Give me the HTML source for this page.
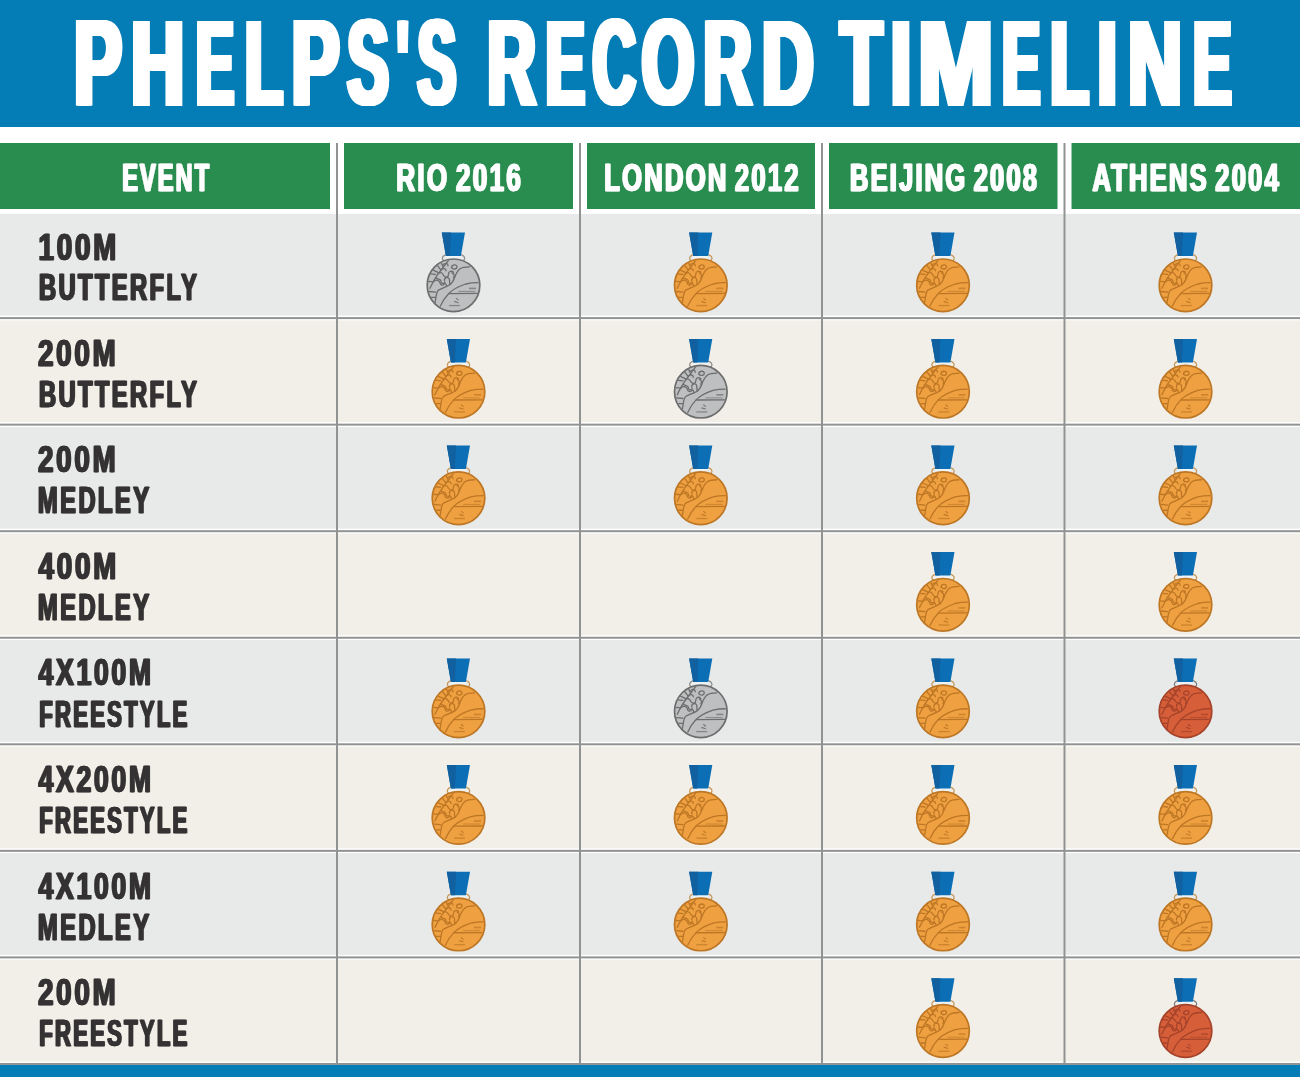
<!DOCTYPE html>
<html><head><meta charset="utf-8"><title>Phelps's Record Timeline</title>
<style>
html,body{margin:0;padding:0;background:#fff;width:1300px;height:1077px;overflow:hidden;font-family:"Liberation Sans",sans-serif;}
svg{will-change:transform;}
</style></head><body>
<svg width="1300" height="1077" viewBox="0 0 1300 1077" style="display:block">
<defs>
<clipPath id="mc"><circle cx="0" cy="0" r="25.6"/></clipPath>
<symbol id="g" overflow="visible">
<ellipse cx="0" cy="-27" rx="11.2" ry="5" fill="none" stroke="#c39556" stroke-width="1.1"/>
<polygon points="-7.6,-29.6 7.4,-29.6 7,-25.5 -7.2,-25.5" fill="#eef3f5"/>
<polygon points="-11.7,-52.8 11.5,-52.8 7.4,-29.3 -7.6,-29.3" fill="#0c6fb6"/>
<polygon points="-11.7,-52.8 -2.5,-52.8 -3.5,-29.3 -7.6,-29.3" fill="#11609f"/>
<circle cx="0" cy="0" r="26.3" fill="#efa142" stroke="#bd7624" stroke-width="1.7"/>
<g fill="none" stroke="#bd7624" stroke-width="1.3" stroke-linecap="round" stroke-linejoin="round" clip-path="url(#mc)">
<path d="M-5,-25 C-10,-18 -16,-11 -19.5,-5 C-21,-2 -22.5,0.5 -23.5,3"/>
<path d="M-16,-19.6 L-12.5,-15.2 M-12.5,-23 L-10.4,-18.5 M-23.9,-11.5 L-17.9,-10.9 M-21,-15.5 L-15.5,-13 M-24.4,6.2 L-17.9,6.8 M-25,-4 L-20,-3.5 M-23,12 L-18.2,12"/>
<path d="M16,-18.5 C12,-18.5 9,-18.3 6.5,-16.5 C3.5,-14 2,-10.5 0.8,-7 C-0.5,-3 -2,-1.5 -4.5,0 C-8,2 -12,3 -14.7,4.6 C-16.5,5.8 -17,8.5 -17.4,11.1 L-19,20.8"/>
<path d="M-13.1,20.8 C-11,16 -8,11.5 -4.5,7.9 C-1,4.5 4,1.5 12.2,-1.3 C17,-2.4 21,-2.6 24.5,-2.6"/>
<path d="M-4.5,8.3 L24.5,8.1"/>
<path d="M-2,-17.5 C-2,-21 3.5,-21.5 3.5,-18.5 C3.5,-16 0,-15.5 -2,-17.5 z"/>
<path d="M-15.5,-12 C-13,-14 -11,-12 -10,-10 C-8,-7 -5,-8 -5,-11 C-5,-14 -2,-15 0,-13"/>
<path d="M-9,-4.5 C-9.5,-8.5 -4.5,-9 -4,-5.5 C-3.6,-3 -4.5,-1.5 -3.2,-0.8"/>
<path d="M-19.5,-4 C-17,-6 -14,-5 -13.5,-2.5 C-13,0 -11,0.5 -9.5,-1 C-8.5,-2 -7.5,-2 -7,0.5"/>
<path d="M-12.5,-15.5 C-10.5,-17.5 -7.5,-17 -7.5,-14.5"/>
<path d="M-10.5,-20.5 C-8.5,-22.5 -5.5,-22.5 -5.5,-19.5"/>
<path d="M-17.5,-7.5 C-15.5,-5.5 -12.5,-6.5 -12.5,-4 C-12.5,-2 -10.5,-1 -8.5,-3"/>
<path d="M-1.5,-12.5 C0.5,-11.5 1.5,-9.5 0,-7.5"/>
</g>
<g fill="#bd7624">
<rect x="15.5" y="2.3" width="7" height="1.6" opacity="0.7"/>
<rect x="4.7" y="5.6" width="17" height="1.1" opacity="0.6"/>
<path d="M3,12.5 l2.5,2.2 l-1,0.6 l-2.3,-2 z M1,15.5 l4.5,1.6 l-0.8,0.8 l-4.2,-1.2 z" opacity="0.9"/>
<rect x="-4.5" y="19.6" width="11" height="1.3" opacity="0.7"/>
</g>
</symbol>
<symbol id="s" overflow="visible">
<ellipse cx="0" cy="-27" rx="11.2" ry="5" fill="none" stroke="#8a8a8b" stroke-width="1.1"/>
<polygon points="-7.6,-29.6 7.4,-29.6 7,-25.5 -7.2,-25.5" fill="#eef3f5"/>
<polygon points="-11.7,-52.8 11.5,-52.8 7.4,-29.3 -7.6,-29.3" fill="#0c6fb6"/>
<polygon points="-11.7,-52.8 -2.5,-52.8 -3.5,-29.3 -7.6,-29.3" fill="#11609f"/>
<circle cx="0" cy="0" r="26.3" fill="#bebfc0" stroke="#6d6d6e" stroke-width="1.7"/>
<g fill="none" stroke="#6d6d6e" stroke-width="1.3" stroke-linecap="round" stroke-linejoin="round" clip-path="url(#mc)">
<path d="M-5,-25 C-10,-18 -16,-11 -19.5,-5 C-21,-2 -22.5,0.5 -23.5,3"/>
<path d="M-16,-19.6 L-12.5,-15.2 M-12.5,-23 L-10.4,-18.5 M-23.9,-11.5 L-17.9,-10.9 M-21,-15.5 L-15.5,-13 M-24.4,6.2 L-17.9,6.8 M-25,-4 L-20,-3.5 M-23,12 L-18.2,12"/>
<path d="M16,-18.5 C12,-18.5 9,-18.3 6.5,-16.5 C3.5,-14 2,-10.5 0.8,-7 C-0.5,-3 -2,-1.5 -4.5,0 C-8,2 -12,3 -14.7,4.6 C-16.5,5.8 -17,8.5 -17.4,11.1 L-19,20.8"/>
<path d="M-13.1,20.8 C-11,16 -8,11.5 -4.5,7.9 C-1,4.5 4,1.5 12.2,-1.3 C17,-2.4 21,-2.6 24.5,-2.6"/>
<path d="M-4.5,8.3 L24.5,8.1"/>
<path d="M-2,-17.5 C-2,-21 3.5,-21.5 3.5,-18.5 C3.5,-16 0,-15.5 -2,-17.5 z"/>
<path d="M-15.5,-12 C-13,-14 -11,-12 -10,-10 C-8,-7 -5,-8 -5,-11 C-5,-14 -2,-15 0,-13"/>
<path d="M-9,-4.5 C-9.5,-8.5 -4.5,-9 -4,-5.5 C-3.6,-3 -4.5,-1.5 -3.2,-0.8"/>
<path d="M-19.5,-4 C-17,-6 -14,-5 -13.5,-2.5 C-13,0 -11,0.5 -9.5,-1 C-8.5,-2 -7.5,-2 -7,0.5"/>
<path d="M-12.5,-15.5 C-10.5,-17.5 -7.5,-17 -7.5,-14.5"/>
<path d="M-10.5,-20.5 C-8.5,-22.5 -5.5,-22.5 -5.5,-19.5"/>
<path d="M-17.5,-7.5 C-15.5,-5.5 -12.5,-6.5 -12.5,-4 C-12.5,-2 -10.5,-1 -8.5,-3"/>
<path d="M-1.5,-12.5 C0.5,-11.5 1.5,-9.5 0,-7.5"/>
</g>
<g fill="#6d6d6e">
<rect x="15.5" y="2.3" width="7" height="1.6" opacity="0.7"/>
<rect x="4.7" y="5.6" width="17" height="1.1" opacity="0.6"/>
<path d="M3,12.5 l2.5,2.2 l-1,0.6 l-2.3,-2 z M1,15.5 l4.5,1.6 l-0.8,0.8 l-4.2,-1.2 z" opacity="0.9"/>
<rect x="-4.5" y="19.6" width="11" height="1.3" opacity="0.7"/>
</g>
</symbol>
<symbol id="b" overflow="visible">
<ellipse cx="0" cy="-27" rx="11.2" ry="5" fill="none" stroke="#7a7a7a" stroke-width="1.1"/>
<polygon points="-7.6,-29.6 7.4,-29.6 7,-25.5 -7.2,-25.5" fill="#eef3f5"/>
<polygon points="-11.7,-52.8 11.5,-52.8 7.4,-29.3 -7.6,-29.3" fill="#0c6fb6"/>
<polygon points="-11.7,-52.8 -2.5,-52.8 -3.5,-29.3 -7.6,-29.3" fill="#11609f"/>
<circle cx="0" cy="0" r="26.3" fill="#d65e39" stroke="#a5432a" stroke-width="1.7"/>
<g fill="none" stroke="#a5432a" stroke-width="1.3" stroke-linecap="round" stroke-linejoin="round" clip-path="url(#mc)">
<path d="M-5,-25 C-10,-18 -16,-11 -19.5,-5 C-21,-2 -22.5,0.5 -23.5,3"/>
<path d="M-16,-19.6 L-12.5,-15.2 M-12.5,-23 L-10.4,-18.5 M-23.9,-11.5 L-17.9,-10.9 M-21,-15.5 L-15.5,-13 M-24.4,6.2 L-17.9,6.8 M-25,-4 L-20,-3.5 M-23,12 L-18.2,12"/>
<path d="M16,-18.5 C12,-18.5 9,-18.3 6.5,-16.5 C3.5,-14 2,-10.5 0.8,-7 C-0.5,-3 -2,-1.5 -4.5,0 C-8,2 -12,3 -14.7,4.6 C-16.5,5.8 -17,8.5 -17.4,11.1 L-19,20.8"/>
<path d="M-13.1,20.8 C-11,16 -8,11.5 -4.5,7.9 C-1,4.5 4,1.5 12.2,-1.3 C17,-2.4 21,-2.6 24.5,-2.6"/>
<path d="M-4.5,8.3 L24.5,8.1"/>
<path d="M-2,-17.5 C-2,-21 3.5,-21.5 3.5,-18.5 C3.5,-16 0,-15.5 -2,-17.5 z"/>
<path d="M-15.5,-12 C-13,-14 -11,-12 -10,-10 C-8,-7 -5,-8 -5,-11 C-5,-14 -2,-15 0,-13"/>
<path d="M-9,-4.5 C-9.5,-8.5 -4.5,-9 -4,-5.5 C-3.6,-3 -4.5,-1.5 -3.2,-0.8"/>
<path d="M-19.5,-4 C-17,-6 -14,-5 -13.5,-2.5 C-13,0 -11,0.5 -9.5,-1 C-8.5,-2 -7.5,-2 -7,0.5"/>
<path d="M-12.5,-15.5 C-10.5,-17.5 -7.5,-17 -7.5,-14.5"/>
<path d="M-10.5,-20.5 C-8.5,-22.5 -5.5,-22.5 -5.5,-19.5"/>
<path d="M-17.5,-7.5 C-15.5,-5.5 -12.5,-6.5 -12.5,-4 C-12.5,-2 -10.5,-1 -8.5,-3"/>
<path d="M-1.5,-12.5 C0.5,-11.5 1.5,-9.5 0,-7.5"/>
</g>
<g fill="#a5432a">
<rect x="15.5" y="2.3" width="7" height="1.6" opacity="0.7"/>
<rect x="4.7" y="5.6" width="17" height="1.1" opacity="0.6"/>
<path d="M3,12.5 l2.5,2.2 l-1,0.6 l-2.3,-2 z M1,15.5 l4.5,1.6 l-0.8,0.8 l-4.2,-1.2 z" opacity="0.9"/>
<rect x="-4.5" y="19.6" width="11" height="1.3" opacity="0.7"/>
</g>
</symbol>
</defs>
<rect x="0" y="0" width="1300" height="1077" fill="#ffffff"/>
<rect x="0" y="0" width="1300" height="127" fill="#047db6"/>
<rect x="0" y="143" width="330" height="66" fill="#2a8d50"/>
<rect x="344" y="143" width="229" height="66" fill="#2a8d50"/>
<rect x="587" y="143" width="228" height="66" fill="#2a8d50"/>
<rect x="829" y="143" width="228.5" height="66" fill="#2a8d50"/>
<rect x="1071.5" y="143" width="228.5" height="66" fill="#2a8d50"/>
<rect x="0" y="214.00" width="1300" height="101.60" fill="#e8eae9"/>
<rect x="0" y="317.10" width="1300" height="2" fill="#919392"/>
<rect x="0" y="320.40" width="1300" height="101.75" fill="#f2efe8"/>
<rect x="0" y="423.65" width="1300" height="2" fill="#919392"/>
<rect x="0" y="426.95" width="1300" height="101.75" fill="#e8eae9"/>
<rect x="0" y="530.20" width="1300" height="2" fill="#919392"/>
<rect x="0" y="533.50" width="1300" height="101.75" fill="#f2efe8"/>
<rect x="0" y="636.75" width="1300" height="2" fill="#919392"/>
<rect x="0" y="640.05" width="1300" height="101.75" fill="#e8eae9"/>
<rect x="0" y="743.30" width="1300" height="2" fill="#919392"/>
<rect x="0" y="746.60" width="1300" height="101.75" fill="#f2efe8"/>
<rect x="0" y="849.85" width="1300" height="2" fill="#919392"/>
<rect x="0" y="853.15" width="1300" height="101.75" fill="#e8eae9"/>
<rect x="0" y="956.40" width="1300" height="2" fill="#919392"/>
<rect x="0" y="959.70" width="1300" height="101.75" fill="#f2efe8"/>
<rect x="0" y="1062.95" width="1300" height="2" fill="#919392"/>
<rect x="0" y="1064.95" width="1300" height="12.05" fill="#047db6"/>
<rect x="336" y="143" width="2" height="921.95" fill="#919392"/>
<rect x="579" y="143" width="2" height="921.95" fill="#919392"/>
<rect x="821" y="143" width="2" height="921.95" fill="#919392"/>
<rect x="1063.5" y="143" width="2" height="921.95" fill="#919392"/>
<text x="71.72" y="104.21" font-family="Liberation Sans" font-weight="bold" font-size="119.91" letter-spacing="0.00" word-spacing="0.00" fill="#ffffff" stroke="#ffffff" stroke-width="2.0" textLength="47.54" lengthAdjust="spacingAndGlyphs">P</text>
<text x="72.56" y="104.21" font-family="Liberation Sans" font-weight="bold" font-size="119.91" letter-spacing="0.00" word-spacing="0.00" fill="#ffffff" stroke="#ffffff" stroke-width="2.0" textLength="47.54" lengthAdjust="spacingAndGlyphs">P</text>
<text x="73.39" y="104.21" font-family="Liberation Sans" font-weight="bold" font-size="119.91" letter-spacing="0.00" word-spacing="0.00" fill="#ffffff" stroke="#ffffff" stroke-width="2.0" textLength="47.54" lengthAdjust="spacingAndGlyphs">P</text>
<text x="74.22" y="104.21" font-family="Liberation Sans" font-weight="bold" font-size="119.91" letter-spacing="0.00" word-spacing="0.00" fill="#ffffff" stroke="#ffffff" stroke-width="2.0" textLength="47.54" lengthAdjust="spacingAndGlyphs">P</text>
<text x="75.06" y="104.21" font-family="Liberation Sans" font-weight="bold" font-size="119.91" letter-spacing="0.00" word-spacing="0.00" fill="#ffffff" stroke="#ffffff" stroke-width="2.0" textLength="47.54" lengthAdjust="spacingAndGlyphs">P</text>
<text x="75.89" y="104.21" font-family="Liberation Sans" font-weight="bold" font-size="119.91" letter-spacing="0.00" word-spacing="0.00" fill="#ffffff" stroke="#ffffff" stroke-width="2.0" textLength="47.54" lengthAdjust="spacingAndGlyphs">P</text>
<text x="76.72" y="104.21" font-family="Liberation Sans" font-weight="bold" font-size="119.91" letter-spacing="0.00" word-spacing="0.00" fill="#ffffff" stroke="#ffffff" stroke-width="2.0" textLength="47.54" lengthAdjust="spacingAndGlyphs">P</text>
<text x="128.84" y="105.00" font-family="Liberation Sans" font-weight="bold" font-size="119.91" letter-spacing="0.00" word-spacing="0.00" fill="#ffffff" stroke="#ffffff" stroke-width="2.0" textLength="52.85" lengthAdjust="spacingAndGlyphs">H</text>
<text x="129.67" y="105.00" font-family="Liberation Sans" font-weight="bold" font-size="119.91" letter-spacing="0.00" word-spacing="0.00" fill="#ffffff" stroke="#ffffff" stroke-width="2.0" textLength="52.85" lengthAdjust="spacingAndGlyphs">H</text>
<text x="130.50" y="105.00" font-family="Liberation Sans" font-weight="bold" font-size="119.91" letter-spacing="0.00" word-spacing="0.00" fill="#ffffff" stroke="#ffffff" stroke-width="2.0" textLength="52.85" lengthAdjust="spacingAndGlyphs">H</text>
<text x="131.34" y="105.00" font-family="Liberation Sans" font-weight="bold" font-size="119.91" letter-spacing="0.00" word-spacing="0.00" fill="#ffffff" stroke="#ffffff" stroke-width="2.0" textLength="52.85" lengthAdjust="spacingAndGlyphs">H</text>
<text x="132.17" y="105.00" font-family="Liberation Sans" font-weight="bold" font-size="119.91" letter-spacing="0.00" word-spacing="0.00" fill="#ffffff" stroke="#ffffff" stroke-width="2.0" textLength="52.85" lengthAdjust="spacingAndGlyphs">H</text>
<text x="133.00" y="105.00" font-family="Liberation Sans" font-weight="bold" font-size="119.91" letter-spacing="0.00" word-spacing="0.00" fill="#ffffff" stroke="#ffffff" stroke-width="2.0" textLength="52.85" lengthAdjust="spacingAndGlyphs">H</text>
<text x="133.84" y="105.00" font-family="Liberation Sans" font-weight="bold" font-size="119.91" letter-spacing="0.00" word-spacing="0.00" fill="#ffffff" stroke="#ffffff" stroke-width="2.0" textLength="52.85" lengthAdjust="spacingAndGlyphs">H</text>
<text x="193.79" y="105.00" font-family="Liberation Sans" font-weight="bold" font-size="119.91" letter-spacing="0.00" word-spacing="0.00" fill="#ffffff" stroke="#ffffff" stroke-width="2.0" textLength="37.52" lengthAdjust="spacingAndGlyphs">E</text>
<text x="194.63" y="105.00" font-family="Liberation Sans" font-weight="bold" font-size="119.91" letter-spacing="0.00" word-spacing="0.00" fill="#ffffff" stroke="#ffffff" stroke-width="2.0" textLength="37.52" lengthAdjust="spacingAndGlyphs">E</text>
<text x="195.46" y="105.00" font-family="Liberation Sans" font-weight="bold" font-size="119.91" letter-spacing="0.00" word-spacing="0.00" fill="#ffffff" stroke="#ffffff" stroke-width="2.0" textLength="37.52" lengthAdjust="spacingAndGlyphs">E</text>
<text x="196.29" y="105.00" font-family="Liberation Sans" font-weight="bold" font-size="119.91" letter-spacing="0.00" word-spacing="0.00" fill="#ffffff" stroke="#ffffff" stroke-width="2.0" textLength="37.52" lengthAdjust="spacingAndGlyphs">E</text>
<text x="197.13" y="105.00" font-family="Liberation Sans" font-weight="bold" font-size="119.91" letter-spacing="0.00" word-spacing="0.00" fill="#ffffff" stroke="#ffffff" stroke-width="2.0" textLength="37.52" lengthAdjust="spacingAndGlyphs">E</text>
<text x="197.96" y="105.00" font-family="Liberation Sans" font-weight="bold" font-size="119.91" letter-spacing="0.00" word-spacing="0.00" fill="#ffffff" stroke="#ffffff" stroke-width="2.0" textLength="37.52" lengthAdjust="spacingAndGlyphs">E</text>
<text x="198.79" y="105.00" font-family="Liberation Sans" font-weight="bold" font-size="119.91" letter-spacing="0.00" word-spacing="0.00" fill="#ffffff" stroke="#ffffff" stroke-width="2.0" textLength="37.52" lengthAdjust="spacingAndGlyphs">E</text>
<text x="242.65" y="105.00" font-family="Liberation Sans" font-weight="bold" font-size="119.91" letter-spacing="0.00" word-spacing="0.00" fill="#ffffff" stroke="#ffffff" stroke-width="2.0" textLength="37.34" lengthAdjust="spacingAndGlyphs">L</text>
<text x="243.48" y="105.00" font-family="Liberation Sans" font-weight="bold" font-size="119.91" letter-spacing="0.00" word-spacing="0.00" fill="#ffffff" stroke="#ffffff" stroke-width="2.0" textLength="37.34" lengthAdjust="spacingAndGlyphs">L</text>
<text x="244.32" y="105.00" font-family="Liberation Sans" font-weight="bold" font-size="119.91" letter-spacing="0.00" word-spacing="0.00" fill="#ffffff" stroke="#ffffff" stroke-width="2.0" textLength="37.34" lengthAdjust="spacingAndGlyphs">L</text>
<text x="245.15" y="105.00" font-family="Liberation Sans" font-weight="bold" font-size="119.91" letter-spacing="0.00" word-spacing="0.00" fill="#ffffff" stroke="#ffffff" stroke-width="2.0" textLength="37.34" lengthAdjust="spacingAndGlyphs">L</text>
<text x="245.98" y="105.00" font-family="Liberation Sans" font-weight="bold" font-size="119.91" letter-spacing="0.00" word-spacing="0.00" fill="#ffffff" stroke="#ffffff" stroke-width="2.0" textLength="37.34" lengthAdjust="spacingAndGlyphs">L</text>
<text x="246.82" y="105.00" font-family="Liberation Sans" font-weight="bold" font-size="119.91" letter-spacing="0.00" word-spacing="0.00" fill="#ffffff" stroke="#ffffff" stroke-width="2.0" textLength="37.34" lengthAdjust="spacingAndGlyphs">L</text>
<text x="247.65" y="105.00" font-family="Liberation Sans" font-weight="bold" font-size="119.91" letter-spacing="0.00" word-spacing="0.00" fill="#ffffff" stroke="#ffffff" stroke-width="2.0" textLength="37.34" lengthAdjust="spacingAndGlyphs">L</text>
<text x="289.15" y="104.21" font-family="Liberation Sans" font-weight="bold" font-size="119.91" letter-spacing="0.00" word-spacing="0.00" fill="#ffffff" stroke="#ffffff" stroke-width="2.0" textLength="47.73" lengthAdjust="spacingAndGlyphs">P</text>
<text x="289.99" y="104.21" font-family="Liberation Sans" font-weight="bold" font-size="119.91" letter-spacing="0.00" word-spacing="0.00" fill="#ffffff" stroke="#ffffff" stroke-width="2.0" textLength="47.73" lengthAdjust="spacingAndGlyphs">P</text>
<text x="290.82" y="104.21" font-family="Liberation Sans" font-weight="bold" font-size="119.91" letter-spacing="0.00" word-spacing="0.00" fill="#ffffff" stroke="#ffffff" stroke-width="2.0" textLength="47.73" lengthAdjust="spacingAndGlyphs">P</text>
<text x="291.65" y="104.21" font-family="Liberation Sans" font-weight="bold" font-size="119.91" letter-spacing="0.00" word-spacing="0.00" fill="#ffffff" stroke="#ffffff" stroke-width="2.0" textLength="47.73" lengthAdjust="spacingAndGlyphs">P</text>
<text x="292.49" y="104.21" font-family="Liberation Sans" font-weight="bold" font-size="119.91" letter-spacing="0.00" word-spacing="0.00" fill="#ffffff" stroke="#ffffff" stroke-width="2.0" textLength="47.73" lengthAdjust="spacingAndGlyphs">P</text>
<text x="293.32" y="104.21" font-family="Liberation Sans" font-weight="bold" font-size="119.91" letter-spacing="0.00" word-spacing="0.00" fill="#ffffff" stroke="#ffffff" stroke-width="2.0" textLength="47.73" lengthAdjust="spacingAndGlyphs">P</text>
<text x="294.15" y="104.21" font-family="Liberation Sans" font-weight="bold" font-size="119.91" letter-spacing="0.00" word-spacing="0.00" fill="#ffffff" stroke="#ffffff" stroke-width="2.0" textLength="47.73" lengthAdjust="spacingAndGlyphs">P</text>
<text x="345.05" y="104.20" font-family="Liberation Sans" font-weight="bold" font-size="119.91" letter-spacing="0.00" word-spacing="0.00" fill="#ffffff" stroke="#ffffff" stroke-width="2.0" textLength="41.05" lengthAdjust="spacingAndGlyphs">S</text>
<text x="345.88" y="104.20" font-family="Liberation Sans" font-weight="bold" font-size="119.91" letter-spacing="0.00" word-spacing="0.00" fill="#ffffff" stroke="#ffffff" stroke-width="2.0" textLength="41.05" lengthAdjust="spacingAndGlyphs">S</text>
<text x="346.71" y="104.20" font-family="Liberation Sans" font-weight="bold" font-size="119.91" letter-spacing="0.00" word-spacing="0.00" fill="#ffffff" stroke="#ffffff" stroke-width="2.0" textLength="41.05" lengthAdjust="spacingAndGlyphs">S</text>
<text x="347.55" y="104.20" font-family="Liberation Sans" font-weight="bold" font-size="119.91" letter-spacing="0.00" word-spacing="0.00" fill="#ffffff" stroke="#ffffff" stroke-width="2.0" textLength="41.05" lengthAdjust="spacingAndGlyphs">S</text>
<text x="348.38" y="104.20" font-family="Liberation Sans" font-weight="bold" font-size="119.91" letter-spacing="0.00" word-spacing="0.00" fill="#ffffff" stroke="#ffffff" stroke-width="2.0" textLength="41.05" lengthAdjust="spacingAndGlyphs">S</text>
<text x="349.21" y="104.20" font-family="Liberation Sans" font-weight="bold" font-size="119.91" letter-spacing="0.00" word-spacing="0.00" fill="#ffffff" stroke="#ffffff" stroke-width="2.0" textLength="41.05" lengthAdjust="spacingAndGlyphs">S</text>
<text x="350.05" y="104.20" font-family="Liberation Sans" font-weight="bold" font-size="119.91" letter-spacing="0.00" word-spacing="0.00" fill="#ffffff" stroke="#ffffff" stroke-width="2.0" textLength="41.05" lengthAdjust="spacingAndGlyphs">S</text>
<text x="395.22" y="105.00" font-family="Liberation Sans" font-weight="bold" font-size="120.00" letter-spacing="0.00" word-spacing="0.00" fill="#ffffff" stroke="#ffffff" stroke-width="2.0" textLength="10.00" lengthAdjust="spacingAndGlyphs">&#39;</text>
<text x="396.06" y="105.00" font-family="Liberation Sans" font-weight="bold" font-size="120.00" letter-spacing="0.00" word-spacing="0.00" fill="#ffffff" stroke="#ffffff" stroke-width="2.0" textLength="10.00" lengthAdjust="spacingAndGlyphs">&#39;</text>
<text x="396.89" y="105.00" font-family="Liberation Sans" font-weight="bold" font-size="120.00" letter-spacing="0.00" word-spacing="0.00" fill="#ffffff" stroke="#ffffff" stroke-width="2.0" textLength="10.00" lengthAdjust="spacingAndGlyphs">&#39;</text>
<text x="397.72" y="105.00" font-family="Liberation Sans" font-weight="bold" font-size="120.00" letter-spacing="0.00" word-spacing="0.00" fill="#ffffff" stroke="#ffffff" stroke-width="2.0" textLength="10.00" lengthAdjust="spacingAndGlyphs">&#39;</text>
<text x="398.56" y="105.00" font-family="Liberation Sans" font-weight="bold" font-size="120.00" letter-spacing="0.00" word-spacing="0.00" fill="#ffffff" stroke="#ffffff" stroke-width="2.0" textLength="10.00" lengthAdjust="spacingAndGlyphs">&#39;</text>
<text x="399.39" y="105.00" font-family="Liberation Sans" font-weight="bold" font-size="120.00" letter-spacing="0.00" word-spacing="0.00" fill="#ffffff" stroke="#ffffff" stroke-width="2.0" textLength="10.00" lengthAdjust="spacingAndGlyphs">&#39;</text>
<text x="400.22" y="105.00" font-family="Liberation Sans" font-weight="bold" font-size="120.00" letter-spacing="0.00" word-spacing="0.00" fill="#ffffff" stroke="#ffffff" stroke-width="2.0" textLength="10.00" lengthAdjust="spacingAndGlyphs">&#39;</text>
<text x="415.34" y="104.20" font-family="Liberation Sans" font-weight="bold" font-size="119.91" letter-spacing="0.00" word-spacing="0.00" fill="#ffffff" stroke="#ffffff" stroke-width="2.0" textLength="38.21" lengthAdjust="spacingAndGlyphs">S</text>
<text x="416.17" y="104.20" font-family="Liberation Sans" font-weight="bold" font-size="119.91" letter-spacing="0.00" word-spacing="0.00" fill="#ffffff" stroke="#ffffff" stroke-width="2.0" textLength="38.21" lengthAdjust="spacingAndGlyphs">S</text>
<text x="417.00" y="104.20" font-family="Liberation Sans" font-weight="bold" font-size="119.91" letter-spacing="0.00" word-spacing="0.00" fill="#ffffff" stroke="#ffffff" stroke-width="2.0" textLength="38.21" lengthAdjust="spacingAndGlyphs">S</text>
<text x="417.84" y="104.20" font-family="Liberation Sans" font-weight="bold" font-size="119.91" letter-spacing="0.00" word-spacing="0.00" fill="#ffffff" stroke="#ffffff" stroke-width="2.0" textLength="38.21" lengthAdjust="spacingAndGlyphs">S</text>
<text x="418.67" y="104.20" font-family="Liberation Sans" font-weight="bold" font-size="119.91" letter-spacing="0.00" word-spacing="0.00" fill="#ffffff" stroke="#ffffff" stroke-width="2.0" textLength="38.21" lengthAdjust="spacingAndGlyphs">S</text>
<text x="419.50" y="104.20" font-family="Liberation Sans" font-weight="bold" font-size="119.91" letter-spacing="0.00" word-spacing="0.00" fill="#ffffff" stroke="#ffffff" stroke-width="2.0" textLength="38.21" lengthAdjust="spacingAndGlyphs">S</text>
<text x="420.34" y="104.20" font-family="Liberation Sans" font-weight="bold" font-size="119.91" letter-spacing="0.00" word-spacing="0.00" fill="#ffffff" stroke="#ffffff" stroke-width="2.0" textLength="38.21" lengthAdjust="spacingAndGlyphs">S</text>
<text x="485.00" y="105.01" font-family="Liberation Sans" font-weight="bold" font-size="119.91" letter-spacing="0.00" word-spacing="0.00" fill="#ffffff" stroke="#ffffff" stroke-width="2.0" textLength="48.29" lengthAdjust="spacingAndGlyphs">R</text>
<text x="485.83" y="105.01" font-family="Liberation Sans" font-weight="bold" font-size="119.91" letter-spacing="0.00" word-spacing="0.00" fill="#ffffff" stroke="#ffffff" stroke-width="2.0" textLength="48.29" lengthAdjust="spacingAndGlyphs">R</text>
<text x="486.67" y="105.01" font-family="Liberation Sans" font-weight="bold" font-size="119.91" letter-spacing="0.00" word-spacing="0.00" fill="#ffffff" stroke="#ffffff" stroke-width="2.0" textLength="48.29" lengthAdjust="spacingAndGlyphs">R</text>
<text x="487.50" y="105.01" font-family="Liberation Sans" font-weight="bold" font-size="119.91" letter-spacing="0.00" word-spacing="0.00" fill="#ffffff" stroke="#ffffff" stroke-width="2.0" textLength="48.29" lengthAdjust="spacingAndGlyphs">R</text>
<text x="488.33" y="105.01" font-family="Liberation Sans" font-weight="bold" font-size="119.91" letter-spacing="0.00" word-spacing="0.00" fill="#ffffff" stroke="#ffffff" stroke-width="2.0" textLength="48.29" lengthAdjust="spacingAndGlyphs">R</text>
<text x="489.17" y="105.01" font-family="Liberation Sans" font-weight="bold" font-size="119.91" letter-spacing="0.00" word-spacing="0.00" fill="#ffffff" stroke="#ffffff" stroke-width="2.0" textLength="48.29" lengthAdjust="spacingAndGlyphs">R</text>
<text x="490.00" y="105.01" font-family="Liberation Sans" font-weight="bold" font-size="119.91" letter-spacing="0.00" word-spacing="0.00" fill="#ffffff" stroke="#ffffff" stroke-width="2.0" textLength="48.29" lengthAdjust="spacingAndGlyphs">R</text>
<text x="543.57" y="105.00" font-family="Liberation Sans" font-weight="bold" font-size="119.91" letter-spacing="0.00" word-spacing="0.00" fill="#ffffff" stroke="#ffffff" stroke-width="2.0" textLength="38.69" lengthAdjust="spacingAndGlyphs">E</text>
<text x="544.40" y="105.00" font-family="Liberation Sans" font-weight="bold" font-size="119.91" letter-spacing="0.00" word-spacing="0.00" fill="#ffffff" stroke="#ffffff" stroke-width="2.0" textLength="38.69" lengthAdjust="spacingAndGlyphs">E</text>
<text x="545.23" y="105.00" font-family="Liberation Sans" font-weight="bold" font-size="119.91" letter-spacing="0.00" word-spacing="0.00" fill="#ffffff" stroke="#ffffff" stroke-width="2.0" textLength="38.69" lengthAdjust="spacingAndGlyphs">E</text>
<text x="546.07" y="105.00" font-family="Liberation Sans" font-weight="bold" font-size="119.91" letter-spacing="0.00" word-spacing="0.00" fill="#ffffff" stroke="#ffffff" stroke-width="2.0" textLength="38.69" lengthAdjust="spacingAndGlyphs">E</text>
<text x="546.90" y="105.00" font-family="Liberation Sans" font-weight="bold" font-size="119.91" letter-spacing="0.00" word-spacing="0.00" fill="#ffffff" stroke="#ffffff" stroke-width="2.0" textLength="38.69" lengthAdjust="spacingAndGlyphs">E</text>
<text x="547.73" y="105.00" font-family="Liberation Sans" font-weight="bold" font-size="119.91" letter-spacing="0.00" word-spacing="0.00" fill="#ffffff" stroke="#ffffff" stroke-width="2.0" textLength="38.69" lengthAdjust="spacingAndGlyphs">E</text>
<text x="548.57" y="105.00" font-family="Liberation Sans" font-weight="bold" font-size="119.91" letter-spacing="0.00" word-spacing="0.00" fill="#ffffff" stroke="#ffffff" stroke-width="2.0" textLength="38.69" lengthAdjust="spacingAndGlyphs">E</text>
<text x="590.33" y="104.20" font-family="Liberation Sans" font-weight="bold" font-size="119.91" letter-spacing="0.00" word-spacing="0.00" fill="#ffffff" stroke="#ffffff" stroke-width="2.0" textLength="42.76" lengthAdjust="spacingAndGlyphs">C</text>
<text x="591.16" y="104.20" font-family="Liberation Sans" font-weight="bold" font-size="119.91" letter-spacing="0.00" word-spacing="0.00" fill="#ffffff" stroke="#ffffff" stroke-width="2.0" textLength="42.76" lengthAdjust="spacingAndGlyphs">C</text>
<text x="591.99" y="104.20" font-family="Liberation Sans" font-weight="bold" font-size="119.91" letter-spacing="0.00" word-spacing="0.00" fill="#ffffff" stroke="#ffffff" stroke-width="2.0" textLength="42.76" lengthAdjust="spacingAndGlyphs">C</text>
<text x="592.83" y="104.20" font-family="Liberation Sans" font-weight="bold" font-size="119.91" letter-spacing="0.00" word-spacing="0.00" fill="#ffffff" stroke="#ffffff" stroke-width="2.0" textLength="42.76" lengthAdjust="spacingAndGlyphs">C</text>
<text x="593.66" y="104.20" font-family="Liberation Sans" font-weight="bold" font-size="119.91" letter-spacing="0.00" word-spacing="0.00" fill="#ffffff" stroke="#ffffff" stroke-width="2.0" textLength="42.76" lengthAdjust="spacingAndGlyphs">C</text>
<text x="594.49" y="104.20" font-family="Liberation Sans" font-weight="bold" font-size="119.91" letter-spacing="0.00" word-spacing="0.00" fill="#ffffff" stroke="#ffffff" stroke-width="2.0" textLength="42.76" lengthAdjust="spacingAndGlyphs">C</text>
<text x="595.33" y="104.20" font-family="Liberation Sans" font-weight="bold" font-size="119.91" letter-spacing="0.00" word-spacing="0.00" fill="#ffffff" stroke="#ffffff" stroke-width="2.0" textLength="42.76" lengthAdjust="spacingAndGlyphs">C</text>
<text x="639.34" y="104.20" font-family="Liberation Sans" font-weight="bold" font-size="119.91" letter-spacing="0.00" word-spacing="0.00" fill="#ffffff" stroke="#ffffff" stroke-width="2.0" textLength="52.47" lengthAdjust="spacingAndGlyphs">O</text>
<text x="640.17" y="104.20" font-family="Liberation Sans" font-weight="bold" font-size="119.91" letter-spacing="0.00" word-spacing="0.00" fill="#ffffff" stroke="#ffffff" stroke-width="2.0" textLength="52.47" lengthAdjust="spacingAndGlyphs">O</text>
<text x="641.00" y="104.20" font-family="Liberation Sans" font-weight="bold" font-size="119.91" letter-spacing="0.00" word-spacing="0.00" fill="#ffffff" stroke="#ffffff" stroke-width="2.0" textLength="52.47" lengthAdjust="spacingAndGlyphs">O</text>
<text x="641.84" y="104.20" font-family="Liberation Sans" font-weight="bold" font-size="119.91" letter-spacing="0.00" word-spacing="0.00" fill="#ffffff" stroke="#ffffff" stroke-width="2.0" textLength="52.47" lengthAdjust="spacingAndGlyphs">O</text>
<text x="642.67" y="104.20" font-family="Liberation Sans" font-weight="bold" font-size="119.91" letter-spacing="0.00" word-spacing="0.00" fill="#ffffff" stroke="#ffffff" stroke-width="2.0" textLength="52.47" lengthAdjust="spacingAndGlyphs">O</text>
<text x="643.50" y="104.20" font-family="Liberation Sans" font-weight="bold" font-size="119.91" letter-spacing="0.00" word-spacing="0.00" fill="#ffffff" stroke="#ffffff" stroke-width="2.0" textLength="52.47" lengthAdjust="spacingAndGlyphs">O</text>
<text x="644.34" y="104.20" font-family="Liberation Sans" font-weight="bold" font-size="119.91" letter-spacing="0.00" word-spacing="0.00" fill="#ffffff" stroke="#ffffff" stroke-width="2.0" textLength="52.47" lengthAdjust="spacingAndGlyphs">O</text>
<text x="701.10" y="105.01" font-family="Liberation Sans" font-weight="bold" font-size="119.91" letter-spacing="0.00" word-spacing="0.00" fill="#ffffff" stroke="#ffffff" stroke-width="2.0" textLength="48.18" lengthAdjust="spacingAndGlyphs">R</text>
<text x="701.93" y="105.01" font-family="Liberation Sans" font-weight="bold" font-size="119.91" letter-spacing="0.00" word-spacing="0.00" fill="#ffffff" stroke="#ffffff" stroke-width="2.0" textLength="48.18" lengthAdjust="spacingAndGlyphs">R</text>
<text x="702.77" y="105.01" font-family="Liberation Sans" font-weight="bold" font-size="119.91" letter-spacing="0.00" word-spacing="0.00" fill="#ffffff" stroke="#ffffff" stroke-width="2.0" textLength="48.18" lengthAdjust="spacingAndGlyphs">R</text>
<text x="703.60" y="105.01" font-family="Liberation Sans" font-weight="bold" font-size="119.91" letter-spacing="0.00" word-spacing="0.00" fill="#ffffff" stroke="#ffffff" stroke-width="2.0" textLength="48.18" lengthAdjust="spacingAndGlyphs">R</text>
<text x="704.43" y="105.01" font-family="Liberation Sans" font-weight="bold" font-size="119.91" letter-spacing="0.00" word-spacing="0.00" fill="#ffffff" stroke="#ffffff" stroke-width="2.0" textLength="48.18" lengthAdjust="spacingAndGlyphs">R</text>
<text x="705.27" y="105.01" font-family="Liberation Sans" font-weight="bold" font-size="119.91" letter-spacing="0.00" word-spacing="0.00" fill="#ffffff" stroke="#ffffff" stroke-width="2.0" textLength="48.18" lengthAdjust="spacingAndGlyphs">R</text>
<text x="706.10" y="105.01" font-family="Liberation Sans" font-weight="bold" font-size="119.91" letter-spacing="0.00" word-spacing="0.00" fill="#ffffff" stroke="#ffffff" stroke-width="2.0" textLength="48.18" lengthAdjust="spacingAndGlyphs">R</text>
<text x="759.43" y="105.00" font-family="Liberation Sans" font-weight="bold" font-size="119.91" letter-spacing="0.00" word-spacing="0.00" fill="#ffffff" stroke="#ffffff" stroke-width="2.0" textLength="51.69" lengthAdjust="spacingAndGlyphs">D</text>
<text x="760.26" y="105.00" font-family="Liberation Sans" font-weight="bold" font-size="119.91" letter-spacing="0.00" word-spacing="0.00" fill="#ffffff" stroke="#ffffff" stroke-width="2.0" textLength="51.69" lengthAdjust="spacingAndGlyphs">D</text>
<text x="761.09" y="105.00" font-family="Liberation Sans" font-weight="bold" font-size="119.91" letter-spacing="0.00" word-spacing="0.00" fill="#ffffff" stroke="#ffffff" stroke-width="2.0" textLength="51.69" lengthAdjust="spacingAndGlyphs">D</text>
<text x="761.93" y="105.00" font-family="Liberation Sans" font-weight="bold" font-size="119.91" letter-spacing="0.00" word-spacing="0.00" fill="#ffffff" stroke="#ffffff" stroke-width="2.0" textLength="51.69" lengthAdjust="spacingAndGlyphs">D</text>
<text x="762.76" y="105.00" font-family="Liberation Sans" font-weight="bold" font-size="119.91" letter-spacing="0.00" word-spacing="0.00" fill="#ffffff" stroke="#ffffff" stroke-width="2.0" textLength="51.69" lengthAdjust="spacingAndGlyphs">D</text>
<text x="763.59" y="105.00" font-family="Liberation Sans" font-weight="bold" font-size="119.91" letter-spacing="0.00" word-spacing="0.00" fill="#ffffff" stroke="#ffffff" stroke-width="2.0" textLength="51.69" lengthAdjust="spacingAndGlyphs">D</text>
<text x="764.43" y="105.00" font-family="Liberation Sans" font-weight="bold" font-size="119.91" letter-spacing="0.00" word-spacing="0.00" fill="#ffffff" stroke="#ffffff" stroke-width="2.0" textLength="51.69" lengthAdjust="spacingAndGlyphs">D</text>
<text x="837.88" y="105.01" font-family="Liberation Sans" font-weight="bold" font-size="119.91" letter-spacing="0.00" word-spacing="0.00" fill="#ffffff" stroke="#ffffff" stroke-width="2.0" textLength="41.54" lengthAdjust="spacingAndGlyphs">T</text>
<text x="838.72" y="105.01" font-family="Liberation Sans" font-weight="bold" font-size="119.91" letter-spacing="0.00" word-spacing="0.00" fill="#ffffff" stroke="#ffffff" stroke-width="2.0" textLength="41.54" lengthAdjust="spacingAndGlyphs">T</text>
<text x="839.55" y="105.01" font-family="Liberation Sans" font-weight="bold" font-size="119.91" letter-spacing="0.00" word-spacing="0.00" fill="#ffffff" stroke="#ffffff" stroke-width="2.0" textLength="41.54" lengthAdjust="spacingAndGlyphs">T</text>
<text x="840.38" y="105.01" font-family="Liberation Sans" font-weight="bold" font-size="119.91" letter-spacing="0.00" word-spacing="0.00" fill="#ffffff" stroke="#ffffff" stroke-width="2.0" textLength="41.54" lengthAdjust="spacingAndGlyphs">T</text>
<text x="841.22" y="105.01" font-family="Liberation Sans" font-weight="bold" font-size="119.91" letter-spacing="0.00" word-spacing="0.00" fill="#ffffff" stroke="#ffffff" stroke-width="2.0" textLength="41.54" lengthAdjust="spacingAndGlyphs">T</text>
<text x="842.05" y="105.01" font-family="Liberation Sans" font-weight="bold" font-size="119.91" letter-spacing="0.00" word-spacing="0.00" fill="#ffffff" stroke="#ffffff" stroke-width="2.0" textLength="41.54" lengthAdjust="spacingAndGlyphs">T</text>
<text x="842.88" y="105.01" font-family="Liberation Sans" font-weight="bold" font-size="119.91" letter-spacing="0.00" word-spacing="0.00" fill="#ffffff" stroke="#ffffff" stroke-width="2.0" textLength="41.54" lengthAdjust="spacingAndGlyphs">T</text>
<text x="888.18" y="105.00" font-family="Liberation Sans" font-weight="bold" font-size="119.91" letter-spacing="0.00" word-spacing="0.00" fill="#ffffff" stroke="#ffffff" stroke-width="2.0" textLength="20.33" lengthAdjust="spacingAndGlyphs">I</text>
<text x="889.01" y="105.00" font-family="Liberation Sans" font-weight="bold" font-size="119.91" letter-spacing="0.00" word-spacing="0.00" fill="#ffffff" stroke="#ffffff" stroke-width="2.0" textLength="20.33" lengthAdjust="spacingAndGlyphs">I</text>
<text x="889.85" y="105.00" font-family="Liberation Sans" font-weight="bold" font-size="119.91" letter-spacing="0.00" word-spacing="0.00" fill="#ffffff" stroke="#ffffff" stroke-width="2.0" textLength="20.33" lengthAdjust="spacingAndGlyphs">I</text>
<text x="890.68" y="105.00" font-family="Liberation Sans" font-weight="bold" font-size="119.91" letter-spacing="0.00" word-spacing="0.00" fill="#ffffff" stroke="#ffffff" stroke-width="2.0" textLength="20.33" lengthAdjust="spacingAndGlyphs">I</text>
<text x="891.51" y="105.00" font-family="Liberation Sans" font-weight="bold" font-size="119.91" letter-spacing="0.00" word-spacing="0.00" fill="#ffffff" stroke="#ffffff" stroke-width="2.0" textLength="20.33" lengthAdjust="spacingAndGlyphs">I</text>
<text x="892.35" y="105.00" font-family="Liberation Sans" font-weight="bold" font-size="119.91" letter-spacing="0.00" word-spacing="0.00" fill="#ffffff" stroke="#ffffff" stroke-width="2.0" textLength="20.33" lengthAdjust="spacingAndGlyphs">I</text>
<text x="893.18" y="105.00" font-family="Liberation Sans" font-weight="bold" font-size="119.91" letter-spacing="0.00" word-spacing="0.00" fill="#ffffff" stroke="#ffffff" stroke-width="2.0" textLength="20.33" lengthAdjust="spacingAndGlyphs">I</text>
<text x="915.52" y="105.00" font-family="Liberation Sans" font-weight="bold" font-size="119.91" letter-spacing="0.00" word-spacing="0.00" fill="#ffffff" stroke="#ffffff" stroke-width="2.0" textLength="75.52" lengthAdjust="spacingAndGlyphs">M</text>
<text x="916.35" y="105.00" font-family="Liberation Sans" font-weight="bold" font-size="119.91" letter-spacing="0.00" word-spacing="0.00" fill="#ffffff" stroke="#ffffff" stroke-width="2.0" textLength="75.52" lengthAdjust="spacingAndGlyphs">M</text>
<text x="917.19" y="105.00" font-family="Liberation Sans" font-weight="bold" font-size="119.91" letter-spacing="0.00" word-spacing="0.00" fill="#ffffff" stroke="#ffffff" stroke-width="2.0" textLength="75.52" lengthAdjust="spacingAndGlyphs">M</text>
<text x="918.02" y="105.00" font-family="Liberation Sans" font-weight="bold" font-size="119.91" letter-spacing="0.00" word-spacing="0.00" fill="#ffffff" stroke="#ffffff" stroke-width="2.0" textLength="75.52" lengthAdjust="spacingAndGlyphs">M</text>
<text x="918.85" y="105.00" font-family="Liberation Sans" font-weight="bold" font-size="119.91" letter-spacing="0.00" word-spacing="0.00" fill="#ffffff" stroke="#ffffff" stroke-width="2.0" textLength="75.52" lengthAdjust="spacingAndGlyphs">M</text>
<text x="919.69" y="105.00" font-family="Liberation Sans" font-weight="bold" font-size="119.91" letter-spacing="0.00" word-spacing="0.00" fill="#ffffff" stroke="#ffffff" stroke-width="2.0" textLength="75.52" lengthAdjust="spacingAndGlyphs">M</text>
<text x="920.52" y="105.00" font-family="Liberation Sans" font-weight="bold" font-size="119.91" letter-spacing="0.00" word-spacing="0.00" fill="#ffffff" stroke="#ffffff" stroke-width="2.0" textLength="75.52" lengthAdjust="spacingAndGlyphs">M</text>
<text x="999.99" y="105.00" font-family="Liberation Sans" font-weight="bold" font-size="119.91" letter-spacing="0.00" word-spacing="0.00" fill="#ffffff" stroke="#ffffff" stroke-width="2.0" textLength="37.35" lengthAdjust="spacingAndGlyphs">E</text>
<text x="1000.83" y="105.00" font-family="Liberation Sans" font-weight="bold" font-size="119.91" letter-spacing="0.00" word-spacing="0.00" fill="#ffffff" stroke="#ffffff" stroke-width="2.0" textLength="37.35" lengthAdjust="spacingAndGlyphs">E</text>
<text x="1001.66" y="105.00" font-family="Liberation Sans" font-weight="bold" font-size="119.91" letter-spacing="0.00" word-spacing="0.00" fill="#ffffff" stroke="#ffffff" stroke-width="2.0" textLength="37.35" lengthAdjust="spacingAndGlyphs">E</text>
<text x="1002.49" y="105.00" font-family="Liberation Sans" font-weight="bold" font-size="119.91" letter-spacing="0.00" word-spacing="0.00" fill="#ffffff" stroke="#ffffff" stroke-width="2.0" textLength="37.35" lengthAdjust="spacingAndGlyphs">E</text>
<text x="1003.33" y="105.00" font-family="Liberation Sans" font-weight="bold" font-size="119.91" letter-spacing="0.00" word-spacing="0.00" fill="#ffffff" stroke="#ffffff" stroke-width="2.0" textLength="37.35" lengthAdjust="spacingAndGlyphs">E</text>
<text x="1004.16" y="105.00" font-family="Liberation Sans" font-weight="bold" font-size="119.91" letter-spacing="0.00" word-spacing="0.00" fill="#ffffff" stroke="#ffffff" stroke-width="2.0" textLength="37.35" lengthAdjust="spacingAndGlyphs">E</text>
<text x="1004.99" y="105.00" font-family="Liberation Sans" font-weight="bold" font-size="119.91" letter-spacing="0.00" word-spacing="0.00" fill="#ffffff" stroke="#ffffff" stroke-width="2.0" textLength="37.35" lengthAdjust="spacingAndGlyphs">E</text>
<text x="1048.07" y="105.00" font-family="Liberation Sans" font-weight="bold" font-size="119.91" letter-spacing="0.00" word-spacing="0.00" fill="#ffffff" stroke="#ffffff" stroke-width="2.0" textLength="38.04" lengthAdjust="spacingAndGlyphs">L</text>
<text x="1048.91" y="105.00" font-family="Liberation Sans" font-weight="bold" font-size="119.91" letter-spacing="0.00" word-spacing="0.00" fill="#ffffff" stroke="#ffffff" stroke-width="2.0" textLength="38.04" lengthAdjust="spacingAndGlyphs">L</text>
<text x="1049.74" y="105.00" font-family="Liberation Sans" font-weight="bold" font-size="119.91" letter-spacing="0.00" word-spacing="0.00" fill="#ffffff" stroke="#ffffff" stroke-width="2.0" textLength="38.04" lengthAdjust="spacingAndGlyphs">L</text>
<text x="1050.57" y="105.00" font-family="Liberation Sans" font-weight="bold" font-size="119.91" letter-spacing="0.00" word-spacing="0.00" fill="#ffffff" stroke="#ffffff" stroke-width="2.0" textLength="38.04" lengthAdjust="spacingAndGlyphs">L</text>
<text x="1051.41" y="105.00" font-family="Liberation Sans" font-weight="bold" font-size="119.91" letter-spacing="0.00" word-spacing="0.00" fill="#ffffff" stroke="#ffffff" stroke-width="2.0" textLength="38.04" lengthAdjust="spacingAndGlyphs">L</text>
<text x="1052.24" y="105.00" font-family="Liberation Sans" font-weight="bold" font-size="119.91" letter-spacing="0.00" word-spacing="0.00" fill="#ffffff" stroke="#ffffff" stroke-width="2.0" textLength="38.04" lengthAdjust="spacingAndGlyphs">L</text>
<text x="1053.07" y="105.00" font-family="Liberation Sans" font-weight="bold" font-size="119.91" letter-spacing="0.00" word-spacing="0.00" fill="#ffffff" stroke="#ffffff" stroke-width="2.0" textLength="38.04" lengthAdjust="spacingAndGlyphs">L</text>
<text x="1095.22" y="105.00" font-family="Liberation Sans" font-weight="bold" font-size="119.91" letter-spacing="0.00" word-spacing="0.00" fill="#ffffff" stroke="#ffffff" stroke-width="2.0" textLength="19.03" lengthAdjust="spacingAndGlyphs">I</text>
<text x="1096.05" y="105.00" font-family="Liberation Sans" font-weight="bold" font-size="119.91" letter-spacing="0.00" word-spacing="0.00" fill="#ffffff" stroke="#ffffff" stroke-width="2.0" textLength="19.03" lengthAdjust="spacingAndGlyphs">I</text>
<text x="1096.89" y="105.00" font-family="Liberation Sans" font-weight="bold" font-size="119.91" letter-spacing="0.00" word-spacing="0.00" fill="#ffffff" stroke="#ffffff" stroke-width="2.0" textLength="19.03" lengthAdjust="spacingAndGlyphs">I</text>
<text x="1097.72" y="105.00" font-family="Liberation Sans" font-weight="bold" font-size="119.91" letter-spacing="0.00" word-spacing="0.00" fill="#ffffff" stroke="#ffffff" stroke-width="2.0" textLength="19.03" lengthAdjust="spacingAndGlyphs">I</text>
<text x="1098.55" y="105.00" font-family="Liberation Sans" font-weight="bold" font-size="119.91" letter-spacing="0.00" word-spacing="0.00" fill="#ffffff" stroke="#ffffff" stroke-width="2.0" textLength="19.03" lengthAdjust="spacingAndGlyphs">I</text>
<text x="1099.39" y="105.00" font-family="Liberation Sans" font-weight="bold" font-size="119.91" letter-spacing="0.00" word-spacing="0.00" fill="#ffffff" stroke="#ffffff" stroke-width="2.0" textLength="19.03" lengthAdjust="spacingAndGlyphs">I</text>
<text x="1100.22" y="105.00" font-family="Liberation Sans" font-weight="bold" font-size="119.91" letter-spacing="0.00" word-spacing="0.00" fill="#ffffff" stroke="#ffffff" stroke-width="2.0" textLength="19.03" lengthAdjust="spacingAndGlyphs">I</text>
<text x="1125.75" y="105.00" font-family="Liberation Sans" font-weight="bold" font-size="119.91" letter-spacing="0.00" word-spacing="0.00" fill="#ffffff" stroke="#ffffff" stroke-width="2.0" textLength="53.56" lengthAdjust="spacingAndGlyphs">N</text>
<text x="1126.58" y="105.00" font-family="Liberation Sans" font-weight="bold" font-size="119.91" letter-spacing="0.00" word-spacing="0.00" fill="#ffffff" stroke="#ffffff" stroke-width="2.0" textLength="53.56" lengthAdjust="spacingAndGlyphs">N</text>
<text x="1127.42" y="105.00" font-family="Liberation Sans" font-weight="bold" font-size="119.91" letter-spacing="0.00" word-spacing="0.00" fill="#ffffff" stroke="#ffffff" stroke-width="2.0" textLength="53.56" lengthAdjust="spacingAndGlyphs">N</text>
<text x="1128.25" y="105.00" font-family="Liberation Sans" font-weight="bold" font-size="119.91" letter-spacing="0.00" word-spacing="0.00" fill="#ffffff" stroke="#ffffff" stroke-width="2.0" textLength="53.56" lengthAdjust="spacingAndGlyphs">N</text>
<text x="1129.08" y="105.00" font-family="Liberation Sans" font-weight="bold" font-size="119.91" letter-spacing="0.00" word-spacing="0.00" fill="#ffffff" stroke="#ffffff" stroke-width="2.0" textLength="53.56" lengthAdjust="spacingAndGlyphs">N</text>
<text x="1129.92" y="105.00" font-family="Liberation Sans" font-weight="bold" font-size="119.91" letter-spacing="0.00" word-spacing="0.00" fill="#ffffff" stroke="#ffffff" stroke-width="2.0" textLength="53.56" lengthAdjust="spacingAndGlyphs">N</text>
<text x="1130.75" y="105.00" font-family="Liberation Sans" font-weight="bold" font-size="119.91" letter-spacing="0.00" word-spacing="0.00" fill="#ffffff" stroke="#ffffff" stroke-width="2.0" textLength="53.56" lengthAdjust="spacingAndGlyphs">N</text>
<text x="1190.98" y="105.00" font-family="Liberation Sans" font-weight="bold" font-size="119.91" letter-spacing="0.00" word-spacing="0.00" fill="#ffffff" stroke="#ffffff" stroke-width="2.0" textLength="37.69" lengthAdjust="spacingAndGlyphs">E</text>
<text x="1191.81" y="105.00" font-family="Liberation Sans" font-weight="bold" font-size="119.91" letter-spacing="0.00" word-spacing="0.00" fill="#ffffff" stroke="#ffffff" stroke-width="2.0" textLength="37.69" lengthAdjust="spacingAndGlyphs">E</text>
<text x="1192.64" y="105.00" font-family="Liberation Sans" font-weight="bold" font-size="119.91" letter-spacing="0.00" word-spacing="0.00" fill="#ffffff" stroke="#ffffff" stroke-width="2.0" textLength="37.69" lengthAdjust="spacingAndGlyphs">E</text>
<text x="1193.48" y="105.00" font-family="Liberation Sans" font-weight="bold" font-size="119.91" letter-spacing="0.00" word-spacing="0.00" fill="#ffffff" stroke="#ffffff" stroke-width="2.0" textLength="37.69" lengthAdjust="spacingAndGlyphs">E</text>
<text x="1194.31" y="105.00" font-family="Liberation Sans" font-weight="bold" font-size="119.91" letter-spacing="0.00" word-spacing="0.00" fill="#ffffff" stroke="#ffffff" stroke-width="2.0" textLength="37.69" lengthAdjust="spacingAndGlyphs">E</text>
<text x="1195.14" y="105.00" font-family="Liberation Sans" font-weight="bold" font-size="119.91" letter-spacing="0.00" word-spacing="0.00" fill="#ffffff" stroke="#ffffff" stroke-width="2.0" textLength="37.69" lengthAdjust="spacingAndGlyphs">E</text>
<text x="1195.98" y="105.00" font-family="Liberation Sans" font-weight="bold" font-size="119.91" letter-spacing="0.00" word-spacing="0.00" fill="#ffffff" stroke="#ffffff" stroke-width="2.0" textLength="37.69" lengthAdjust="spacingAndGlyphs">E</text>
<text x="121.54" y="190.52" font-family="Liberation Sans" font-weight="bold" font-size="39.30" letter-spacing="3.54" word-spacing="-4.72" fill="#ffffff" stroke="#ffffff" stroke-width="0.6" textLength="88.92" lengthAdjust="spacingAndGlyphs">EVENT</text>
<text x="122.24" y="190.52" font-family="Liberation Sans" font-weight="bold" font-size="39.30" letter-spacing="3.54" word-spacing="-4.72" fill="#ffffff" stroke="#ffffff" stroke-width="0.6" textLength="88.92" lengthAdjust="spacingAndGlyphs">EVENT</text>
<text x="122.94" y="190.52" font-family="Liberation Sans" font-weight="bold" font-size="39.30" letter-spacing="3.54" word-spacing="-4.72" fill="#ffffff" stroke="#ffffff" stroke-width="0.6" textLength="88.92" lengthAdjust="spacingAndGlyphs">EVENT</text>
<text x="395.49" y="190.52" font-family="Liberation Sans" font-weight="bold" font-size="39.30" letter-spacing="3.54" word-spacing="-4.72" fill="#ffffff" stroke="#ffffff" stroke-width="0.6" textLength="127.05" lengthAdjust="spacingAndGlyphs">RIO 2016</text>
<text x="396.19" y="190.52" font-family="Liberation Sans" font-weight="bold" font-size="39.30" letter-spacing="3.54" word-spacing="-4.72" fill="#ffffff" stroke="#ffffff" stroke-width="0.6" textLength="127.05" lengthAdjust="spacingAndGlyphs">RIO 2016</text>
<text x="396.89" y="190.52" font-family="Liberation Sans" font-weight="bold" font-size="39.30" letter-spacing="3.54" word-spacing="-4.72" fill="#ffffff" stroke="#ffffff" stroke-width="0.6" textLength="127.05" lengthAdjust="spacingAndGlyphs">RIO 2016</text>
<text x="603.53" y="190.52" font-family="Liberation Sans" font-weight="bold" font-size="39.30" letter-spacing="3.54" word-spacing="-4.72" fill="#ffffff" stroke="#ffffff" stroke-width="0.6" textLength="196.66" lengthAdjust="spacingAndGlyphs">LONDON 2012</text>
<text x="604.23" y="190.52" font-family="Liberation Sans" font-weight="bold" font-size="39.30" letter-spacing="3.54" word-spacing="-4.72" fill="#ffffff" stroke="#ffffff" stroke-width="0.6" textLength="196.66" lengthAdjust="spacingAndGlyphs">LONDON 2012</text>
<text x="604.93" y="190.52" font-family="Liberation Sans" font-weight="bold" font-size="39.30" letter-spacing="3.54" word-spacing="-4.72" fill="#ffffff" stroke="#ffffff" stroke-width="0.6" textLength="196.66" lengthAdjust="spacingAndGlyphs">LONDON 2012</text>
<text x="849.31" y="190.52" font-family="Liberation Sans" font-weight="bold" font-size="39.30" letter-spacing="3.54" word-spacing="-4.72" fill="#ffffff" stroke="#ffffff" stroke-width="0.6" textLength="189.22" lengthAdjust="spacingAndGlyphs">BEIJING 2008</text>
<text x="850.01" y="190.52" font-family="Liberation Sans" font-weight="bold" font-size="39.30" letter-spacing="3.54" word-spacing="-4.72" fill="#ffffff" stroke="#ffffff" stroke-width="0.6" textLength="189.22" lengthAdjust="spacingAndGlyphs">BEIJING 2008</text>
<text x="850.71" y="190.52" font-family="Liberation Sans" font-weight="bold" font-size="39.30" letter-spacing="3.54" word-spacing="-4.72" fill="#ffffff" stroke="#ffffff" stroke-width="0.6" textLength="189.22" lengthAdjust="spacingAndGlyphs">BEIJING 2008</text>
<text x="1091.75" y="190.52" font-family="Liberation Sans" font-weight="bold" font-size="39.30" letter-spacing="3.54" word-spacing="-4.72" fill="#ffffff" stroke="#ffffff" stroke-width="0.6" textLength="188.60" lengthAdjust="spacingAndGlyphs">ATHENS 2004</text>
<text x="1092.45" y="190.52" font-family="Liberation Sans" font-weight="bold" font-size="39.30" letter-spacing="3.54" word-spacing="-4.72" fill="#ffffff" stroke="#ffffff" stroke-width="0.6" textLength="188.60" lengthAdjust="spacingAndGlyphs">ATHENS 2004</text>
<text x="1093.15" y="190.52" font-family="Liberation Sans" font-weight="bold" font-size="39.30" letter-spacing="3.54" word-spacing="-4.72" fill="#ffffff" stroke="#ffffff" stroke-width="0.6" textLength="188.60" lengthAdjust="spacingAndGlyphs">ATHENS 2004</text>
<text x="37.84" y="259.51" font-family="Liberation Sans" font-weight="bold" font-size="37.00" letter-spacing="3.70" word-spacing="0.00" fill="#343233" stroke="#343233" stroke-width="0.5" textLength="80.50" lengthAdjust="spacingAndGlyphs">100M</text>
<text x="38.54" y="259.51" font-family="Liberation Sans" font-weight="bold" font-size="37.00" letter-spacing="3.70" word-spacing="0.00" fill="#343233" stroke="#343233" stroke-width="0.5" textLength="80.50" lengthAdjust="spacingAndGlyphs">100M</text>
<text x="39.24" y="259.51" font-family="Liberation Sans" font-weight="bold" font-size="37.00" letter-spacing="3.70" word-spacing="0.00" fill="#343233" stroke="#343233" stroke-width="0.5" textLength="80.50" lengthAdjust="spacingAndGlyphs">100M</text>
<text x="38.26" y="299.95" font-family="Liberation Sans" font-weight="bold" font-size="37.00" letter-spacing="3.70" word-spacing="0.00" fill="#343233" stroke="#343233" stroke-width="0.5" textLength="160.34" lengthAdjust="spacingAndGlyphs">BUTTERFLY</text>
<text x="38.96" y="299.95" font-family="Liberation Sans" font-weight="bold" font-size="37.00" letter-spacing="3.70" word-spacing="0.00" fill="#343233" stroke="#343233" stroke-width="0.5" textLength="160.34" lengthAdjust="spacingAndGlyphs">BUTTERFLY</text>
<text x="39.66" y="299.95" font-family="Liberation Sans" font-weight="bold" font-size="37.00" letter-spacing="3.70" word-spacing="0.00" fill="#343233" stroke="#343233" stroke-width="0.5" textLength="160.34" lengthAdjust="spacingAndGlyphs">BUTTERFLY</text>
<text x="37.25" y="366.38" font-family="Liberation Sans" font-weight="bold" font-size="37.00" letter-spacing="3.70" word-spacing="0.00" fill="#343233" stroke="#343233" stroke-width="0.5" textLength="80.55" lengthAdjust="spacingAndGlyphs">200M</text>
<text x="37.95" y="366.38" font-family="Liberation Sans" font-weight="bold" font-size="37.00" letter-spacing="3.70" word-spacing="0.00" fill="#343233" stroke="#343233" stroke-width="0.5" textLength="80.55" lengthAdjust="spacingAndGlyphs">200M</text>
<text x="38.65" y="366.38" font-family="Liberation Sans" font-weight="bold" font-size="37.00" letter-spacing="3.70" word-spacing="0.00" fill="#343233" stroke="#343233" stroke-width="0.5" textLength="80.55" lengthAdjust="spacingAndGlyphs">200M</text>
<text x="38.26" y="406.82" font-family="Liberation Sans" font-weight="bold" font-size="37.00" letter-spacing="3.70" word-spacing="0.00" fill="#343233" stroke="#343233" stroke-width="0.5" textLength="160.34" lengthAdjust="spacingAndGlyphs">BUTTERFLY</text>
<text x="38.96" y="406.82" font-family="Liberation Sans" font-weight="bold" font-size="37.00" letter-spacing="3.70" word-spacing="0.00" fill="#343233" stroke="#343233" stroke-width="0.5" textLength="160.34" lengthAdjust="spacingAndGlyphs">BUTTERFLY</text>
<text x="39.66" y="406.82" font-family="Liberation Sans" font-weight="bold" font-size="37.00" letter-spacing="3.70" word-spacing="0.00" fill="#343233" stroke="#343233" stroke-width="0.5" textLength="160.34" lengthAdjust="spacingAndGlyphs">BUTTERFLY</text>
<text x="37.25" y="472.45" font-family="Liberation Sans" font-weight="bold" font-size="37.00" letter-spacing="3.70" word-spacing="0.00" fill="#343233" stroke="#343233" stroke-width="0.5" textLength="80.55" lengthAdjust="spacingAndGlyphs">200M</text>
<text x="37.95" y="472.45" font-family="Liberation Sans" font-weight="bold" font-size="37.00" letter-spacing="3.70" word-spacing="0.00" fill="#343233" stroke="#343233" stroke-width="0.5" textLength="80.55" lengthAdjust="spacingAndGlyphs">200M</text>
<text x="38.65" y="472.45" font-family="Liberation Sans" font-weight="bold" font-size="37.00" letter-spacing="3.70" word-spacing="0.00" fill="#343233" stroke="#343233" stroke-width="0.5" textLength="80.55" lengthAdjust="spacingAndGlyphs">200M</text>
<text x="37.18" y="512.89" font-family="Liberation Sans" font-weight="bold" font-size="37.00" letter-spacing="3.70" word-spacing="0.00" fill="#343233" stroke="#343233" stroke-width="0.5" textLength="113.61" lengthAdjust="spacingAndGlyphs">MEDLEY</text>
<text x="37.88" y="512.89" font-family="Liberation Sans" font-weight="bold" font-size="37.00" letter-spacing="3.70" word-spacing="0.00" fill="#343233" stroke="#343233" stroke-width="0.5" textLength="113.61" lengthAdjust="spacingAndGlyphs">MEDLEY</text>
<text x="38.58" y="512.89" font-family="Liberation Sans" font-weight="bold" font-size="37.00" letter-spacing="3.70" word-spacing="0.00" fill="#343233" stroke="#343233" stroke-width="0.5" textLength="113.61" lengthAdjust="spacingAndGlyphs">MEDLEY</text>
<text x="37.82" y="579.32" font-family="Liberation Sans" font-weight="bold" font-size="37.00" letter-spacing="3.70" word-spacing="0.00" fill="#343233" stroke="#343233" stroke-width="0.5" textLength="80.55" lengthAdjust="spacingAndGlyphs">400M</text>
<text x="38.52" y="579.32" font-family="Liberation Sans" font-weight="bold" font-size="37.00" letter-spacing="3.70" word-spacing="0.00" fill="#343233" stroke="#343233" stroke-width="0.5" textLength="80.55" lengthAdjust="spacingAndGlyphs">400M</text>
<text x="39.22" y="579.32" font-family="Liberation Sans" font-weight="bold" font-size="37.00" letter-spacing="3.70" word-spacing="0.00" fill="#343233" stroke="#343233" stroke-width="0.5" textLength="80.55" lengthAdjust="spacingAndGlyphs">400M</text>
<text x="37.18" y="619.76" font-family="Liberation Sans" font-weight="bold" font-size="37.00" letter-spacing="3.70" word-spacing="0.00" fill="#343233" stroke="#343233" stroke-width="0.5" textLength="113.61" lengthAdjust="spacingAndGlyphs">MEDLEY</text>
<text x="37.88" y="619.76" font-family="Liberation Sans" font-weight="bold" font-size="37.00" letter-spacing="3.70" word-spacing="0.00" fill="#343233" stroke="#343233" stroke-width="0.5" textLength="113.61" lengthAdjust="spacingAndGlyphs">MEDLEY</text>
<text x="38.58" y="619.76" font-family="Liberation Sans" font-weight="bold" font-size="37.00" letter-spacing="3.70" word-spacing="0.00" fill="#343233" stroke="#343233" stroke-width="0.5" textLength="113.61" lengthAdjust="spacingAndGlyphs">MEDLEY</text>
<text x="37.87" y="685.39" font-family="Liberation Sans" font-weight="bold" font-size="37.00" letter-spacing="3.70" word-spacing="0.00" fill="#343233" stroke="#343233" stroke-width="0.5" textLength="115.13" lengthAdjust="spacingAndGlyphs">4X100M</text>
<text x="38.57" y="685.39" font-family="Liberation Sans" font-weight="bold" font-size="37.00" letter-spacing="3.70" word-spacing="0.00" fill="#343233" stroke="#343233" stroke-width="0.5" textLength="115.13" lengthAdjust="spacingAndGlyphs">4X100M</text>
<text x="39.27" y="685.39" font-family="Liberation Sans" font-weight="bold" font-size="37.00" letter-spacing="3.70" word-spacing="0.00" fill="#343233" stroke="#343233" stroke-width="0.5" textLength="115.13" lengthAdjust="spacingAndGlyphs">4X100M</text>
<text x="38.59" y="726.63" font-family="Liberation Sans" font-weight="bold" font-size="37.00" letter-spacing="3.70" word-spacing="0.00" fill="#343233" stroke="#343233" stroke-width="0.5" textLength="150.25" lengthAdjust="spacingAndGlyphs">FREESTYLE</text>
<text x="39.29" y="726.63" font-family="Liberation Sans" font-weight="bold" font-size="37.00" letter-spacing="3.70" word-spacing="0.00" fill="#343233" stroke="#343233" stroke-width="0.5" textLength="150.25" lengthAdjust="spacingAndGlyphs">FREESTYLE</text>
<text x="39.99" y="726.63" font-family="Liberation Sans" font-weight="bold" font-size="37.00" letter-spacing="3.70" word-spacing="0.00" fill="#343233" stroke="#343233" stroke-width="0.5" textLength="150.25" lengthAdjust="spacingAndGlyphs">FREESTYLE</text>
<text x="37.87" y="792.26" font-family="Liberation Sans" font-weight="bold" font-size="37.00" letter-spacing="3.70" word-spacing="0.00" fill="#343233" stroke="#343233" stroke-width="0.5" textLength="115.13" lengthAdjust="spacingAndGlyphs">4X200M</text>
<text x="38.57" y="792.26" font-family="Liberation Sans" font-weight="bold" font-size="37.00" letter-spacing="3.70" word-spacing="0.00" fill="#343233" stroke="#343233" stroke-width="0.5" textLength="115.13" lengthAdjust="spacingAndGlyphs">4X200M</text>
<text x="39.27" y="792.26" font-family="Liberation Sans" font-weight="bold" font-size="37.00" letter-spacing="3.70" word-spacing="0.00" fill="#343233" stroke="#343233" stroke-width="0.5" textLength="115.13" lengthAdjust="spacingAndGlyphs">4X200M</text>
<text x="38.59" y="832.70" font-family="Liberation Sans" font-weight="bold" font-size="37.00" letter-spacing="3.70" word-spacing="0.00" fill="#343233" stroke="#343233" stroke-width="0.5" textLength="150.25" lengthAdjust="spacingAndGlyphs">FREESTYLE</text>
<text x="39.29" y="832.70" font-family="Liberation Sans" font-weight="bold" font-size="37.00" letter-spacing="3.70" word-spacing="0.00" fill="#343233" stroke="#343233" stroke-width="0.5" textLength="150.25" lengthAdjust="spacingAndGlyphs">FREESTYLE</text>
<text x="39.99" y="832.70" font-family="Liberation Sans" font-weight="bold" font-size="37.00" letter-spacing="3.70" word-spacing="0.00" fill="#343233" stroke="#343233" stroke-width="0.5" textLength="150.25" lengthAdjust="spacingAndGlyphs">FREESTYLE</text>
<text x="37.87" y="899.13" font-family="Liberation Sans" font-weight="bold" font-size="37.00" letter-spacing="3.70" word-spacing="0.00" fill="#343233" stroke="#343233" stroke-width="0.5" textLength="115.13" lengthAdjust="spacingAndGlyphs">4X100M</text>
<text x="38.57" y="899.13" font-family="Liberation Sans" font-weight="bold" font-size="37.00" letter-spacing="3.70" word-spacing="0.00" fill="#343233" stroke="#343233" stroke-width="0.5" textLength="115.13" lengthAdjust="spacingAndGlyphs">4X100M</text>
<text x="39.27" y="899.13" font-family="Liberation Sans" font-weight="bold" font-size="37.00" letter-spacing="3.70" word-spacing="0.00" fill="#343233" stroke="#343233" stroke-width="0.5" textLength="115.13" lengthAdjust="spacingAndGlyphs">4X100M</text>
<text x="37.18" y="939.57" font-family="Liberation Sans" font-weight="bold" font-size="37.00" letter-spacing="3.70" word-spacing="0.00" fill="#343233" stroke="#343233" stroke-width="0.5" textLength="113.61" lengthAdjust="spacingAndGlyphs">MEDLEY</text>
<text x="37.88" y="939.57" font-family="Liberation Sans" font-weight="bold" font-size="37.00" letter-spacing="3.70" word-spacing="0.00" fill="#343233" stroke="#343233" stroke-width="0.5" textLength="113.61" lengthAdjust="spacingAndGlyphs">MEDLEY</text>
<text x="38.58" y="939.57" font-family="Liberation Sans" font-weight="bold" font-size="37.00" letter-spacing="3.70" word-spacing="0.00" fill="#343233" stroke="#343233" stroke-width="0.5" textLength="113.61" lengthAdjust="spacingAndGlyphs">MEDLEY</text>
<text x="37.25" y="1005.20" font-family="Liberation Sans" font-weight="bold" font-size="37.00" letter-spacing="3.70" word-spacing="0.00" fill="#343233" stroke="#343233" stroke-width="0.5" textLength="80.55" lengthAdjust="spacingAndGlyphs">200M</text>
<text x="37.95" y="1005.20" font-family="Liberation Sans" font-weight="bold" font-size="37.00" letter-spacing="3.70" word-spacing="0.00" fill="#343233" stroke="#343233" stroke-width="0.5" textLength="80.55" lengthAdjust="spacingAndGlyphs">200M</text>
<text x="38.65" y="1005.20" font-family="Liberation Sans" font-weight="bold" font-size="37.00" letter-spacing="3.70" word-spacing="0.00" fill="#343233" stroke="#343233" stroke-width="0.5" textLength="80.55" lengthAdjust="spacingAndGlyphs">200M</text>
<text x="38.59" y="1045.64" font-family="Liberation Sans" font-weight="bold" font-size="37.00" letter-spacing="3.70" word-spacing="0.00" fill="#343233" stroke="#343233" stroke-width="0.5" textLength="150.25" lengthAdjust="spacingAndGlyphs">FREESTYLE</text>
<text x="39.29" y="1045.64" font-family="Liberation Sans" font-weight="bold" font-size="37.00" letter-spacing="3.70" word-spacing="0.00" fill="#343233" stroke="#343233" stroke-width="0.5" textLength="150.25" lengthAdjust="spacingAndGlyphs">FREESTYLE</text>
<text x="39.99" y="1045.64" font-family="Liberation Sans" font-weight="bold" font-size="37.00" letter-spacing="3.70" word-spacing="0.00" fill="#343233" stroke="#343233" stroke-width="0.5" textLength="150.25" lengthAdjust="spacingAndGlyphs">FREESTYLE</text>
<use href="#s" x="453.5" y="285.30"/>
<use href="#g" x="700.8" y="285.30"/>
<use href="#g" x="943" y="285.30"/>
<use href="#g" x="1185.5" y="285.30"/>
<use href="#g" x="458.5" y="391.70"/>
<use href="#s" x="700.8" y="391.70"/>
<use href="#g" x="943" y="391.70"/>
<use href="#g" x="1185.5" y="391.70"/>
<use href="#g" x="458.5" y="498.25"/>
<use href="#g" x="700.8" y="498.25"/>
<use href="#g" x="943" y="498.25"/>
<use href="#g" x="1185.5" y="498.25"/>
<use href="#g" x="943" y="604.80"/>
<use href="#g" x="1185.5" y="604.80"/>
<use href="#g" x="458.5" y="711.35"/>
<use href="#s" x="700.8" y="711.35"/>
<use href="#g" x="943" y="711.35"/>
<use href="#b" x="1185.5" y="711.35"/>
<use href="#g" x="458.5" y="817.90"/>
<use href="#g" x="700.8" y="817.90"/>
<use href="#g" x="943" y="817.90"/>
<use href="#g" x="1185.5" y="817.90"/>
<use href="#g" x="458.5" y="924.45"/>
<use href="#g" x="700.8" y="924.45"/>
<use href="#g" x="943" y="924.45"/>
<use href="#g" x="1185.5" y="924.45"/>
<use href="#g" x="943" y="1031.00"/>
<use href="#b" x="1185.5" y="1031.00"/>
</svg>
</body></html>
